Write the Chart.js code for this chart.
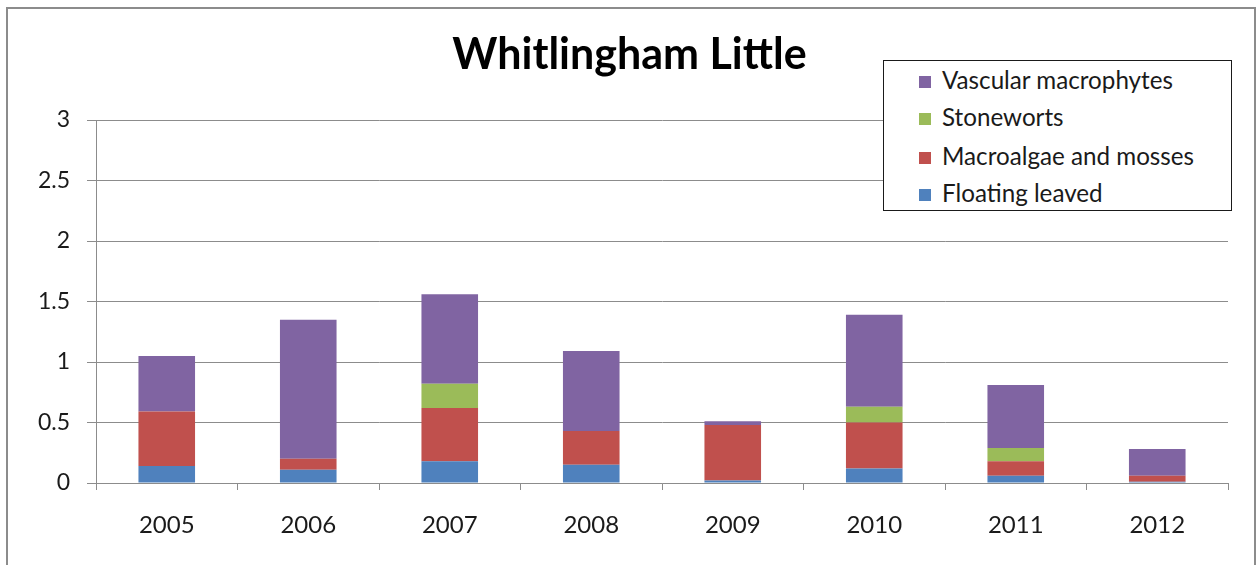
<!DOCTYPE html>
<html>
<head>
<meta charset="utf-8">
<script src="https://cdn.jsdelivr.net/npm/chart.js@4.4.1/dist/chart.umd.min.js"></script>
<style>
    html, body { margin: 0; padding: 0; background: #fff; }
    body { width: 1259px; height: 565px; position: relative; overflow: hidden; font-family: Lato, sans-serif; }
    #chart { position: absolute; left: 0; top: 0; }
    #frame {
        position: absolute; left: 6px; top: 7px; width: 1246px; height: 600px;
        border: 2px solid #8c8c8c; pointer-events: none;
    }
    #legend {
        position: absolute; left: 883px; top: 60px; width: 349px; height: 151px;
        border: 1px solid #1a1a1a; background: #fff; box-sizing: border-box;
    }
    #legend .item {
        position: absolute; left: 35px; height: 26px; line-height: 26px;
        font-size: 24.2px; color: #1a1a1a; white-space: nowrap;
    }
    #legend .box {
        display: inline-block; width: 12px; height: 12px; margin-right: 11px; vertical-align: 1px;
    }
</style>
</head>
<body>
<canvas id="chart" width="1259" height="565"></canvas>
<div id="frame"></div>
<div id="legend"></div>
<script>
const years = ['2005', '2006', '2007', '2008', '2009', '2010', '2011', '2012'];
const floatingLeaved = [0.14, 0.11, 0.18, 0.15, 0.02, 0.12, 0.06, 0.01];
const macroalgae = [0.45, 0.09, 0.44, 0.28, 0.46, 0.38, 0.12, 0.05];
const stoneworts = [0, 0, 0.20, 0, 0, 0.13, 0.11, 0];
const vascular = [0.46, 1.15, 0.74, 0.66, 0.03, 0.76, 0.52, 0.22];
const yTicks = [0, 0.5, 1, 1.5, 2, 2.5, 3];

const gridGrey = '#8c8c8c';
const textColor = '#1a1a1a';

const chart = new Chart(document.getElementById('chart'), {
    type: 'bar',
    data: {
        labels: years,
        datasets: [
            { label: 'Floating leaved', data: floatingLeaved, backgroundColor: '#4F81BD' },
            { label: 'Macroalgae and mosses', data: macroalgae, backgroundColor: '#C0504D' },
            { label: 'Stoneworts', data: stoneworts, backgroundColor: '#9BBB59' },
            { label: 'Vascular macrophytes', data: vascular, backgroundColor: '#8064A2' }
        ]
    },
    options: {
        responsive: false,
        animation: false,
        categoryPercentage: 1,
        barPercentage: 0.4,
        // left/right padding kept even so the title sits over the middle of the canvas
        layout: { padding: { left: 31, right: 31, top: 0, bottom: 0 } },
        plugins: {
            legend: { display: false },
            tooltip: { enabled: false },
            title: {
                display: true,
                text: 'Whitlingham Little',
                color: '#000',
                font: { family: 'Lato', size: 43, weight: 'bold' },
                padding: { top: 29, bottom: 39.4 }
            }
        },
        scales: {
            x: {
                stacked: true,
                offset: true,
                grid: { offset: true, drawOnChartArea: false, color: gridGrey, tickLength: 7 },
                border: { color: gridGrey, width: 1 },
                ticks: { color: textColor, font: { family: 'Lato', size: 24 }, padding: 21 },
                afterFit: scale => { scale.height = 82; }
            },
            y: {
                stacked: true,
                min: 0,
                max: 3,
                afterBuildTicks: scale => { scale.ticks = yTicks.map(v => ({ value: v })); },
                grid: { color: gridGrey, tickLength: 9 },
                border: { color: gridGrey, width: 1 },
                ticks: {
                    color: textColor,
                    font: { family: 'Lato', size: 23 },
                    padding: 17,
                    callback: value => String(value)
                },
                afterFit: scale => { scale.width = 65; }
            }
        }
    }
});

// legend box, top entry is the top of the stack
const legendEl = document.getElementById('legend');
const rowTops = [6, 43, 82, 119];
chart.data.datasets.slice().reverse().forEach((ds, i) => {
    const item = document.createElement('div');
    item.className = 'item';
    item.style.top = rowTops[i] + 'px';
    item.innerHTML = `<span class="box" style="background:${ds.backgroundColor}"></span>${ds.label}`;
    legendEl.appendChild(item);
});
</script>
</body>
</html>
